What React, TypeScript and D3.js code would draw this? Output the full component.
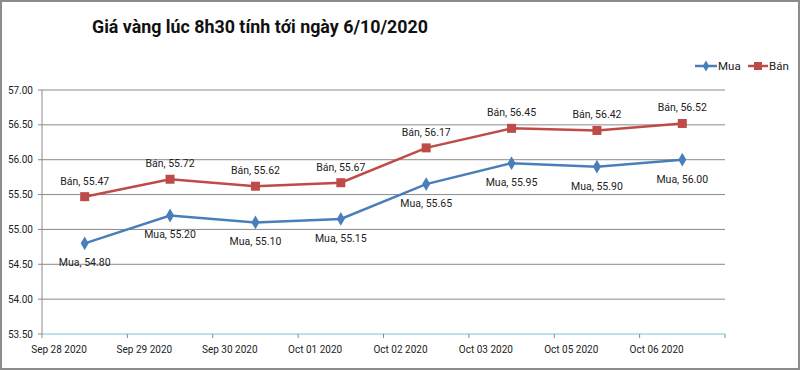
import React from "react";
import * as d3 from "d3";

const dates = ["Sep 28 2020", "Sep 29 2020", "Sep 30 2020", "Oct 01 2020", "Oct 02 2020", "Oct 03 2020", "Oct 05 2020", "Oct 06 2020"];
const mua = [54.8, 55.2, 55.1, 55.15, 55.65, 55.95, 55.9, 56.0];
const ban = [55.47, 55.72, 55.62, 55.67, 56.17, 56.45, 56.42, 56.52];
const yTicks = [53.5, 54.0, 54.5, 55.0, 55.5, 56.0, 56.5, 57.0];
const seriesNames = ["Mua", "Bán"];
const title = "Giá vàng lúc 8h30 tính tới ngày 6/10/2020";

const W = 800, H = 370;
const left = 42, right = 725, top = 90, bottom = 334;
const BLUE = "#4a7ebb";
const RED = "#be4b48";
const FONT = "Roboto, 'Noto Sans', sans-serif";

export default function App() {
  const x = d3.scaleBand<string>().domain(dates).range([left, right]).padding(0);
  const y = d3.scaleLinear().domain([53.5, 57]).range([bottom, top]);
  const cx = (d: string) => (x(d) as number) + x.bandwidth() / 2;
  const line = d3.line<number>().x((_, i) => cx(dates[i])).y((v) => y(v));
  const ticksX = [...dates.map((d) => x(d) as number), right];

  return (
    <svg width={W} height={H} style={{ position: "absolute", left: 0, top: 0, background: "#fff" }}>
      <rect x={1} y={1} width={W - 2} height={H - 2} fill="#fff" stroke="#8c8c8c" strokeWidth={2} />
      <text x={92} y={33} fontFamily={FONT} fontSize={18.5} fontWeight="bold" fill="#111" textLength={336} lengthAdjust="spacingAndGlyphs">{title}</text>

      {/* gridlines */}
      {yTicks.map((t) => (
        <g key={t}>
          {t !== 53.5 && <line x1={left} x2={right} y1={y(t)} y2={y(t)} stroke="#8a8a8a" strokeWidth={1} />}
          <line x1={left - 4} x2={left} y1={y(t)} y2={y(t)} stroke="#8a8a8a" />
          <text x={33} y={y(t) + 3.5} textAnchor="end" fontFamily={FONT} fontSize={10} fill="#222">{t.toFixed(2)}</text>
        </g>
      ))}
      <line x1={left} x2={left} y1={top} y2={bottom} stroke="#8a8a8a" />
      <line x1={left} x2={right} y1={bottom} y2={bottom} stroke="#7fc6d8" strokeWidth={1.2} />
      {ticksX.map((t, i) => (
        <line key={i} x1={t} x2={t} y1={bottom} y2={bottom + 4} stroke="#8a8a8a" />
      ))}
      {dates.map((d) => (
        <text key={d} x={(x(d) as number) + 17} y={353} textAnchor="middle" fontFamily={FONT} fontSize={10} fill="#222">{d}</text>
      ))}

      {/* lines */}
      <path d={line(mua) as string} fill="none" stroke={BLUE} strokeWidth={2.5} />
      <path d={line(ban) as string} fill="none" stroke={RED} strokeWidth={2.5} />
      {mua.map((v, i) => (
        <path key={"m" + i} d={d3.symbol(d3.symbolDiamond, 55)() as string} transform={`translate(${cx(dates[i])},${y(v)})`} fill={BLUE} />
      ))}
      {ban.map((v, i) => (
        <rect key={"b" + i} x={cx(dates[i]) - 4.5} y={y(v) - 4.5} width={9} height={9} fill={RED} />
      ))}

      {/* data labels */}
      {mua.map((v, i) => (
        <text key={"ml" + i} x={cx(dates[i])} y={y(v) + 23} textAnchor="middle" fontFamily={FONT} fontSize={10.5} fill="#222">{`${seriesNames[0]}, ${v.toFixed(2)}`}</text>
      ))}
      {ban.map((v, i) => (
        <text key={"bl" + i} x={cx(dates[i])} y={y(v) - 12} textAnchor="middle" fontFamily={FONT} fontSize={10.5} fill="#222">{`${seriesNames[1]}, ${v.toFixed(2)}`}</text>
      ))}

      {/* legend */}
      <line x1={695} x2={717} y1={66} y2={66} stroke={BLUE} strokeWidth={2.5} />
      <path d={d3.symbol(d3.symbolDiamond, 36)() as string} transform="translate(706,66)" fill={BLUE} />
      <text x={718} y={70} fontFamily={FONT} fontSize={11.5} fill="#222">{seriesNames[0]}</text>
      <line x1={748} x2={768} y1={66} y2={66} stroke={RED} strokeWidth={2.5} />
      <rect x={754} y={62} width={8} height={8} fill={RED} />
      <text x={769} y={70} fontFamily={FONT} fontSize={11.5} fill="#222">{seriesNames[1]}</text>
    </svg>
  );
}
